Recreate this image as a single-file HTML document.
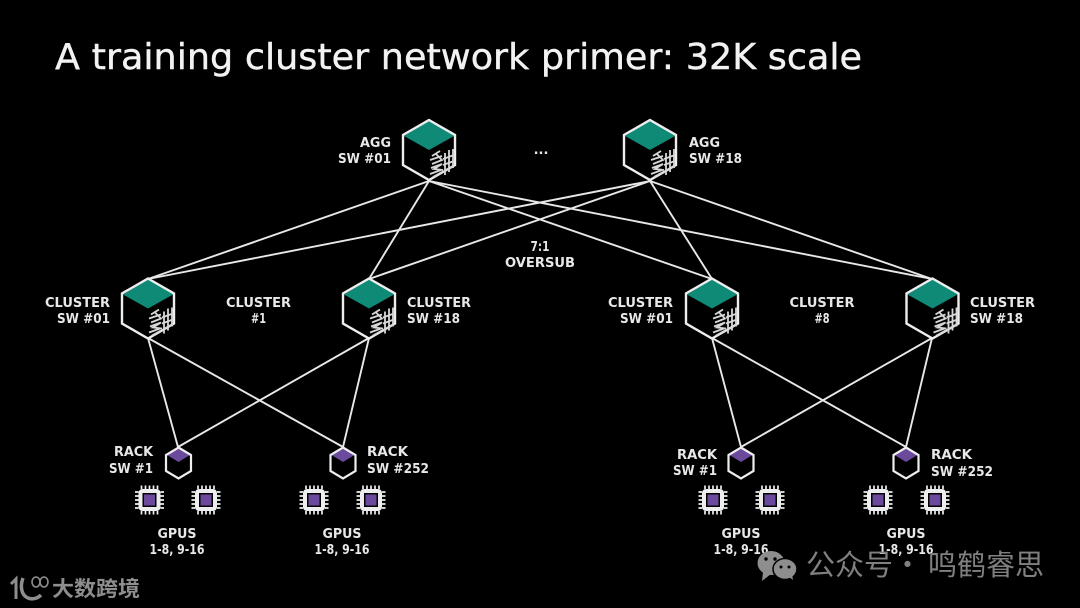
<!DOCTYPE html>
<html><head><meta charset="utf-8"><style>
html,body{margin:0;padding:0;background:#000;width:1080px;height:608px;overflow:hidden}
svg{display:block}
text{font-family:"DejaVu Sans","Noto Sans CJK SC",sans-serif}
.l{font-size:13px;font-weight:bold;fill:#e8e8e8}
.c{font-family:"Noto Sans CJK SC",sans-serif}
</style></head><body>
<svg width="1080" height="608" viewBox="0 0 1080 608" xmlns="http://www.w3.org/2000/svg">
<defs>
<symbol id="big" overflow="visible" viewBox="-30 -35 60 70" width="60" height="70" x="-30" y="-35">
<polygon points="0,-29 26,-14.500 0,0 -25,-14" fill="#0f8a76"/>
<polygon points="0,-30 26,-15 26,15 0,30 -26,15 -26,-15" fill="none" stroke="#eee" stroke-width="2.400"/>
<g fill="none" stroke="#d8d8d8" stroke-width="1.800">
<path d="M3,6l8,-5M1,10l12,-4M7,4l6,6l-10,4M2,18l11,-4l-8,5l9,1M1,24l11,-4M4,27l9,-5"/>
<path d="M16,3v22M20,0v22M24,-1v19M14,9l11,-4M14,15l11,-4M14,22l10,-6"/>
</g>
</symbol>
<symbol id="small" overflow="visible" viewBox="-15 -18 30 36" width="30" height="36" x="-15" y="-18">
<polygon points="0,-14.500 11.500,-8 0,-1 -11.500,-8" fill="#6b4a9e"/>
<polygon points="0,-15.500 12.500,-8 12.500,8 0,15.500 -12.500,8 -12.500,-8" fill="none" stroke="#eee" stroke-width="2.200"/>
</symbol>
<symbol id="chip" overflow="visible" viewBox="-18 -18 36 36" width="36" height="36" x="-18" y="-18">
<rect x="-9" y="-9" width="18" height="18" rx="2" fill="#000" stroke="#eee" stroke-width="4"/>
<rect x="-5.500" y="-5.500" width="11" height="11" fill="#6b4a9e"/>
<path d="M-8,-11v-3.500M-4,-11v-3.500M0,-11v-3.500M4,-11v-3.500M8,-11v-3.500M-8,11v3.500M-4,11v3.500M0,11v3.500M4,11v3.500M8,11v3.500M-11,-8h-3.500M-11,-4h-3.500M-11,0h-3.500M-11,4h-3.500M-11,8h-3.500M11,-8h3.500M11,-4h3.500M11,0h3.500M11,4h3.500M11,8h3.500" stroke="#eee" stroke-width="1.700" fill="none"/>
</symbol>
</defs>
<rect width="1080" height="608" fill="#000"/>
<text x="55" y="69" font-size="36" fill="#f2f2f2" stroke="#f2f2f2" stroke-width="0.400" textLength="807" lengthAdjust="spacingAndGlyphs">A training cluster network primer: 32K scale</text>

<g stroke="#e8e8e8" stroke-width="1.900" fill="none">
<path d="M429,181L148,279M429,181L369,279M429,181L712,279M429,181L932,279"/>
<path d="M650,181L148,279M650,181L369,279M650,181L712,279M650,181L932,279"/>
<path d="M148,338L178,447M148,338L343,447M369,338L178,447M369,338L343,447"/>
<path d="M712,338L741,447M712,338L906,447M932,338L741,447M932,338L906,447"/>
</g>

<use href="#big" transform="translate(429,150)"/>
<use href="#big" transform="translate(650,150)"/>
<use href="#big" transform="translate(148,308.500)"/>
<use href="#big" transform="translate(369,308.500)"/>
<use href="#big" transform="translate(712,308.500)"/>
<use href="#big" transform="translate(932.500,308.500)"/>

<use href="#small" transform="translate(178.500,463)"/>
<use href="#small" transform="translate(343,463)"/>
<use href="#small" transform="translate(741,463)"/>
<use href="#small" transform="translate(906,463)"/>

<use href="#chip" transform="translate(149.500,500)"/>
<use href="#chip" transform="translate(206,500)"/>
<use href="#chip" transform="translate(314,500)"/>
<use href="#chip" transform="translate(371,500)"/>
<use href="#chip" transform="translate(713,500)"/>
<use href="#chip" transform="translate(770,500)"/>
<use href="#chip" transform="translate(878,500)"/>
<use href="#chip" transform="translate(935,500)"/>

<g>
<text class="l" x="391" y="147" text-anchor="end" textLength="31" lengthAdjust="spacingAndGlyphs">AGG</text>
<text class="l" x="391" y="163" text-anchor="end" textLength="53" lengthAdjust="spacingAndGlyphs">SW #01</text>
<text class="l" x="689" y="147" textLength="31" lengthAdjust="spacingAndGlyphs">AGG</text>
<text class="l" x="689" y="163" textLength="53" lengthAdjust="spacingAndGlyphs">SW #18</text>
<text class="l" x="541" y="154" text-anchor="middle">...</text>
<text class="l" x="540" y="251" text-anchor="middle" textLength="19" lengthAdjust="spacingAndGlyphs">7:1</text>
<text class="l" x="540" y="267" text-anchor="middle" textLength="70" lengthAdjust="spacingAndGlyphs">OVERSUB</text>

<text class="l" x="110" y="307" text-anchor="end" textLength="65" lengthAdjust="spacingAndGlyphs">CLUSTER</text>
<text class="l" x="110" y="323" text-anchor="end" textLength="53" lengthAdjust="spacingAndGlyphs">SW #01</text>
<text class="l" x="258.500" y="307" text-anchor="middle" textLength="65" lengthAdjust="spacingAndGlyphs">CLUSTER</text>
<text class="l" x="258.500" y="323" text-anchor="middle" textLength="15" lengthAdjust="spacingAndGlyphs">#1</text>
<text class="l" x="407" y="307" textLength="64" lengthAdjust="spacingAndGlyphs">CLUSTER</text>
<text class="l" x="407" y="323" textLength="53" lengthAdjust="spacingAndGlyphs">SW #18</text>

<text class="l" x="673" y="307" text-anchor="end" textLength="65" lengthAdjust="spacingAndGlyphs">CLUSTER</text>
<text class="l" x="673" y="323" text-anchor="end" textLength="53" lengthAdjust="spacingAndGlyphs">SW #01</text>
<text class="l" x="822" y="307" text-anchor="middle" textLength="65" lengthAdjust="spacingAndGlyphs">CLUSTER</text>
<text class="l" x="822" y="323" text-anchor="middle" textLength="15" lengthAdjust="spacingAndGlyphs">#8</text>
<text class="l" x="970" y="307" textLength="65" lengthAdjust="spacingAndGlyphs">CLUSTER</text>
<text class="l" x="970" y="323" textLength="53" lengthAdjust="spacingAndGlyphs">SW #18</text>

<text class="l" x="153" y="456" text-anchor="end" textLength="39" lengthAdjust="spacingAndGlyphs">RACK</text>
<text class="l" x="153" y="473" text-anchor="end" textLength="44" lengthAdjust="spacingAndGlyphs">SW #1</text>
<text class="l" x="367" y="456" textLength="41" lengthAdjust="spacingAndGlyphs">RACK</text>
<text class="l" x="367" y="473" textLength="62" lengthAdjust="spacingAndGlyphs">SW #252</text>
<text class="l" x="717" y="459" text-anchor="end" textLength="40" lengthAdjust="spacingAndGlyphs">RACK</text>
<text class="l" x="717" y="475" text-anchor="end" textLength="44" lengthAdjust="spacingAndGlyphs">SW #1</text>
<text class="l" x="931" y="459" textLength="41" lengthAdjust="spacingAndGlyphs">RACK</text>
<text class="l" x="931" y="476" textLength="62" lengthAdjust="spacingAndGlyphs">SW #252</text>

<text class="l" x="177" y="538" text-anchor="middle" textLength="39" lengthAdjust="spacingAndGlyphs">GPUS</text>
<text class="l" x="177" y="554" text-anchor="middle" textLength="55" lengthAdjust="spacingAndGlyphs">1-8, 9-16</text>
<text class="l" x="342" y="538" text-anchor="middle" textLength="39" lengthAdjust="spacingAndGlyphs">GPUS</text>
<text class="l" x="342" y="554" text-anchor="middle" textLength="55" lengthAdjust="spacingAndGlyphs">1-8, 9-16</text>
<text class="l" x="741" y="538" text-anchor="middle" textLength="39" lengthAdjust="spacingAndGlyphs">GPUS</text>
<text class="l" x="741" y="554" text-anchor="middle" textLength="55" lengthAdjust="spacingAndGlyphs">1-8, 9-16</text>
<text class="l" x="906" y="538" text-anchor="middle" textLength="39" lengthAdjust="spacingAndGlyphs">GPUS</text>
<text class="l" x="906" y="554" text-anchor="middle" textLength="55" lengthAdjust="spacingAndGlyphs">1-8, 9-16</text>
</g>

<!-- left watermark -->
<g fill="none" stroke="#8e8e8e">
<path d="M11,584l5,-5v20" stroke-width="3"/>
<path d="M23,578c-3,8 -2,17 5,20c5,2 10,0 13,-3" stroke-width="3.500"/>
<ellipse cx="36" cy="582" rx="4" ry="5" stroke-width="1.600"/>
<ellipse cx="44" cy="582" rx="4" ry="5" stroke-width="1.600"/>
</g>
<text class="c" x="52" y="596" font-size="21" font-weight="bold" fill="#8e8e8e" textLength="88" lengthAdjust="spacingAndGlyphs">大数跨境</text>

<!-- wechat watermark -->
<ellipse cx="771" cy="563" rx="13.500" ry="12" fill="#8e8e8e"/>
<polygon points="763,572 762,581 771,574" fill="#8e8e8e"/>
<ellipse cx="785" cy="569" rx="12" ry="10.500" fill="#8e8e8e" stroke="#000" stroke-width="1.500"/>
<polygon points="789,577 793,580 792,574" fill="#8e8e8e"/>
<circle cx="766" cy="559" r="1.700" fill="#000"/><circle cx="775" cy="559" r="1.700" fill="#000"/>
<circle cx="781" cy="567" r="1.500" fill="#000"/><circle cx="789" cy="567" r="1.500" fill="#000"/>
<text class="c" x="806" y="575" font-size="29" fill="#808080">公众号</text>
<text class="c" x="893" y="575" font-size="29" fill="#808080">·</text>
<text class="c" x="928" y="575" font-size="29" fill="#808080">鸣鹤睿思</text>
</svg>
</body></html>
